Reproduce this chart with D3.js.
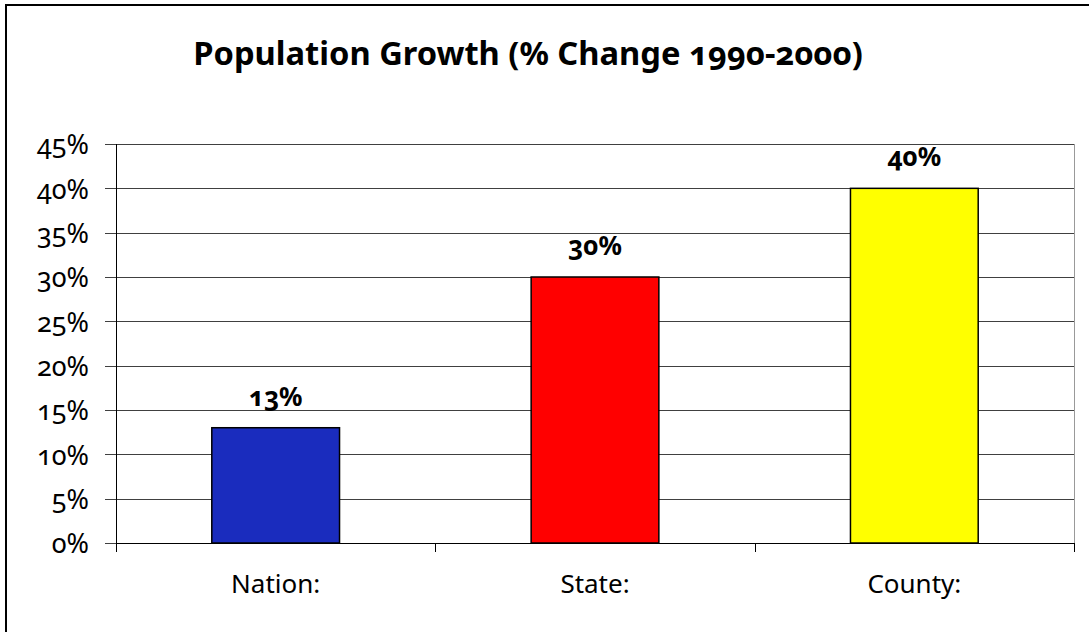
<!DOCTYPE html>
<html>
<head>
<meta charset="utf-8">
<script src="https://cdn.jsdelivr.net/npm/d3@7/dist/d3.min.js"></script>
<style>
  html, body { margin: 0; padding: 0; background: #fff; overflow: hidden; }
  svg { display: block; }
  svg text { font-family: "Noto Sans", "Open Sans", sans-serif; font-variant-numeric: oldstyle-nums; font-feature-settings: "onum" 1; }
</style>
</head>
<body>
<svg id="chart" width="1089" height="632"></svg>
<script>
const title = "Population Growth (% Change 1990-2000)";
const categories = ["Nation:", "State:", "County:"];
const values = [13, 30, 40];
const barColors = ["#1a2cbe", "#ff0000", "#ffff00"];
const yTicks = [0, 5, 10, 15, 20, 25, 30, 35, 40, 45];

const svg = d3.select("#chart");
const pL = 116, pR = 1074, pT = 144, pB = 543;

// outer border (extends past the right/bottom edges like the reference crop)
svg.append("rect").attr("x", 6).attr("y", 5).attr("width", 1200).attr("height", 800)
  .attr("fill", "none").attr("stroke", "#000").attr("stroke-width", 2);

// title
const t = svg.append("text").attr("x", 528).attr("y", 65).attr("text-anchor", "middle")
  .attr("font-weight", "bold").attr("font-size", 34)
  .attr("fill", "#000").text(title);
const tw = t.node().getComputedTextLength();
t.attr("font-size", 34 * 670 / tw);

const x = d3.scaleBand().domain(categories).range([pL, pR]).paddingInner(0.6).paddingOuter(0.3);
const y = d3.scaleLinear().domain([0, 45]).range([pB, pT]);

// gridlines + y axis labels
const gy = svg.append("g").attr("transform", `translate(${pR},0)`);
gy.call(d3.axisLeft(y).tickValues(yTicks).tickSize(pR - pL + 11).tickFormat(d => d + "%").tickPadding(16));
gy.select(".domain").remove();
gy.selectAll(".tick line").attr("stroke", "#404040").attr("shape-rendering", "crispEdges");
gy.selectAll(".tick text").attr("font-size", 27).attr("fill", "#000").attr("dy", "0.36em");

// plot area right border
svg.append("line").attr("x1", pR + 0.5).attr("x2", pR + 0.5).attr("y1", pT).attr("y2", pB)
  .attr("stroke", "#999").attr("stroke-width", 1);

// value axis line
svg.append("line").attr("x1", pL + 0.5).attr("x2", pL + 0.5).attr("y1", pT).attr("y2", pB + 9)
  .attr("stroke", "#000").attr("stroke-width", 1);

// bars
svg.append("g").selectAll("rect").data(values).join("rect")
  .attr("x", (d, i) => x(categories[i]))
  .attr("y", d => y(d))
  .attr("width", x.bandwidth())
  .attr("height", d => y(0) - y(d))
  .attr("fill", (d, i) => barColors[i])
  .attr("stroke", "#000").attr("stroke-width", 1.5);

// category axis
const step = x.step();
const gx = svg.append("g").attr("transform", `translate(0,${pB})`);
gx.call(d3.axisBottom(x).tickSize(0));
gx.select(".domain").attr("stroke", "#000").attr("d", `M${pL},0.5H${pR}`);
gx.selectAll(".tick text").attr("font-size", 26).attr("fill", "#000").attr("y", 50).attr("dy", 0);
gx.selectAll(".sep").data(d3.range(1, categories.length + 1)).join("line")
  .attr("x1", i => Math.round(pL + step * i) + 0.5).attr("x2", i => Math.round(pL + step * i) + 0.5)
  .attr("y1", 0).attr("y2", 9).attr("stroke", "#000");

// value labels
svg.append("g").selectAll("text").data(values).join("text")
  .attr("x", (d, i) => x(categories[i]) + x.bandwidth() / 2)
  .attr("y", d => y(d) - 22)
  .attr("text-anchor", "middle").attr("font-weight", "bold").attr("font-size", 26).attr("fill", "#000")
  .text(d => d + "%");
</script>
</body>
</html>
